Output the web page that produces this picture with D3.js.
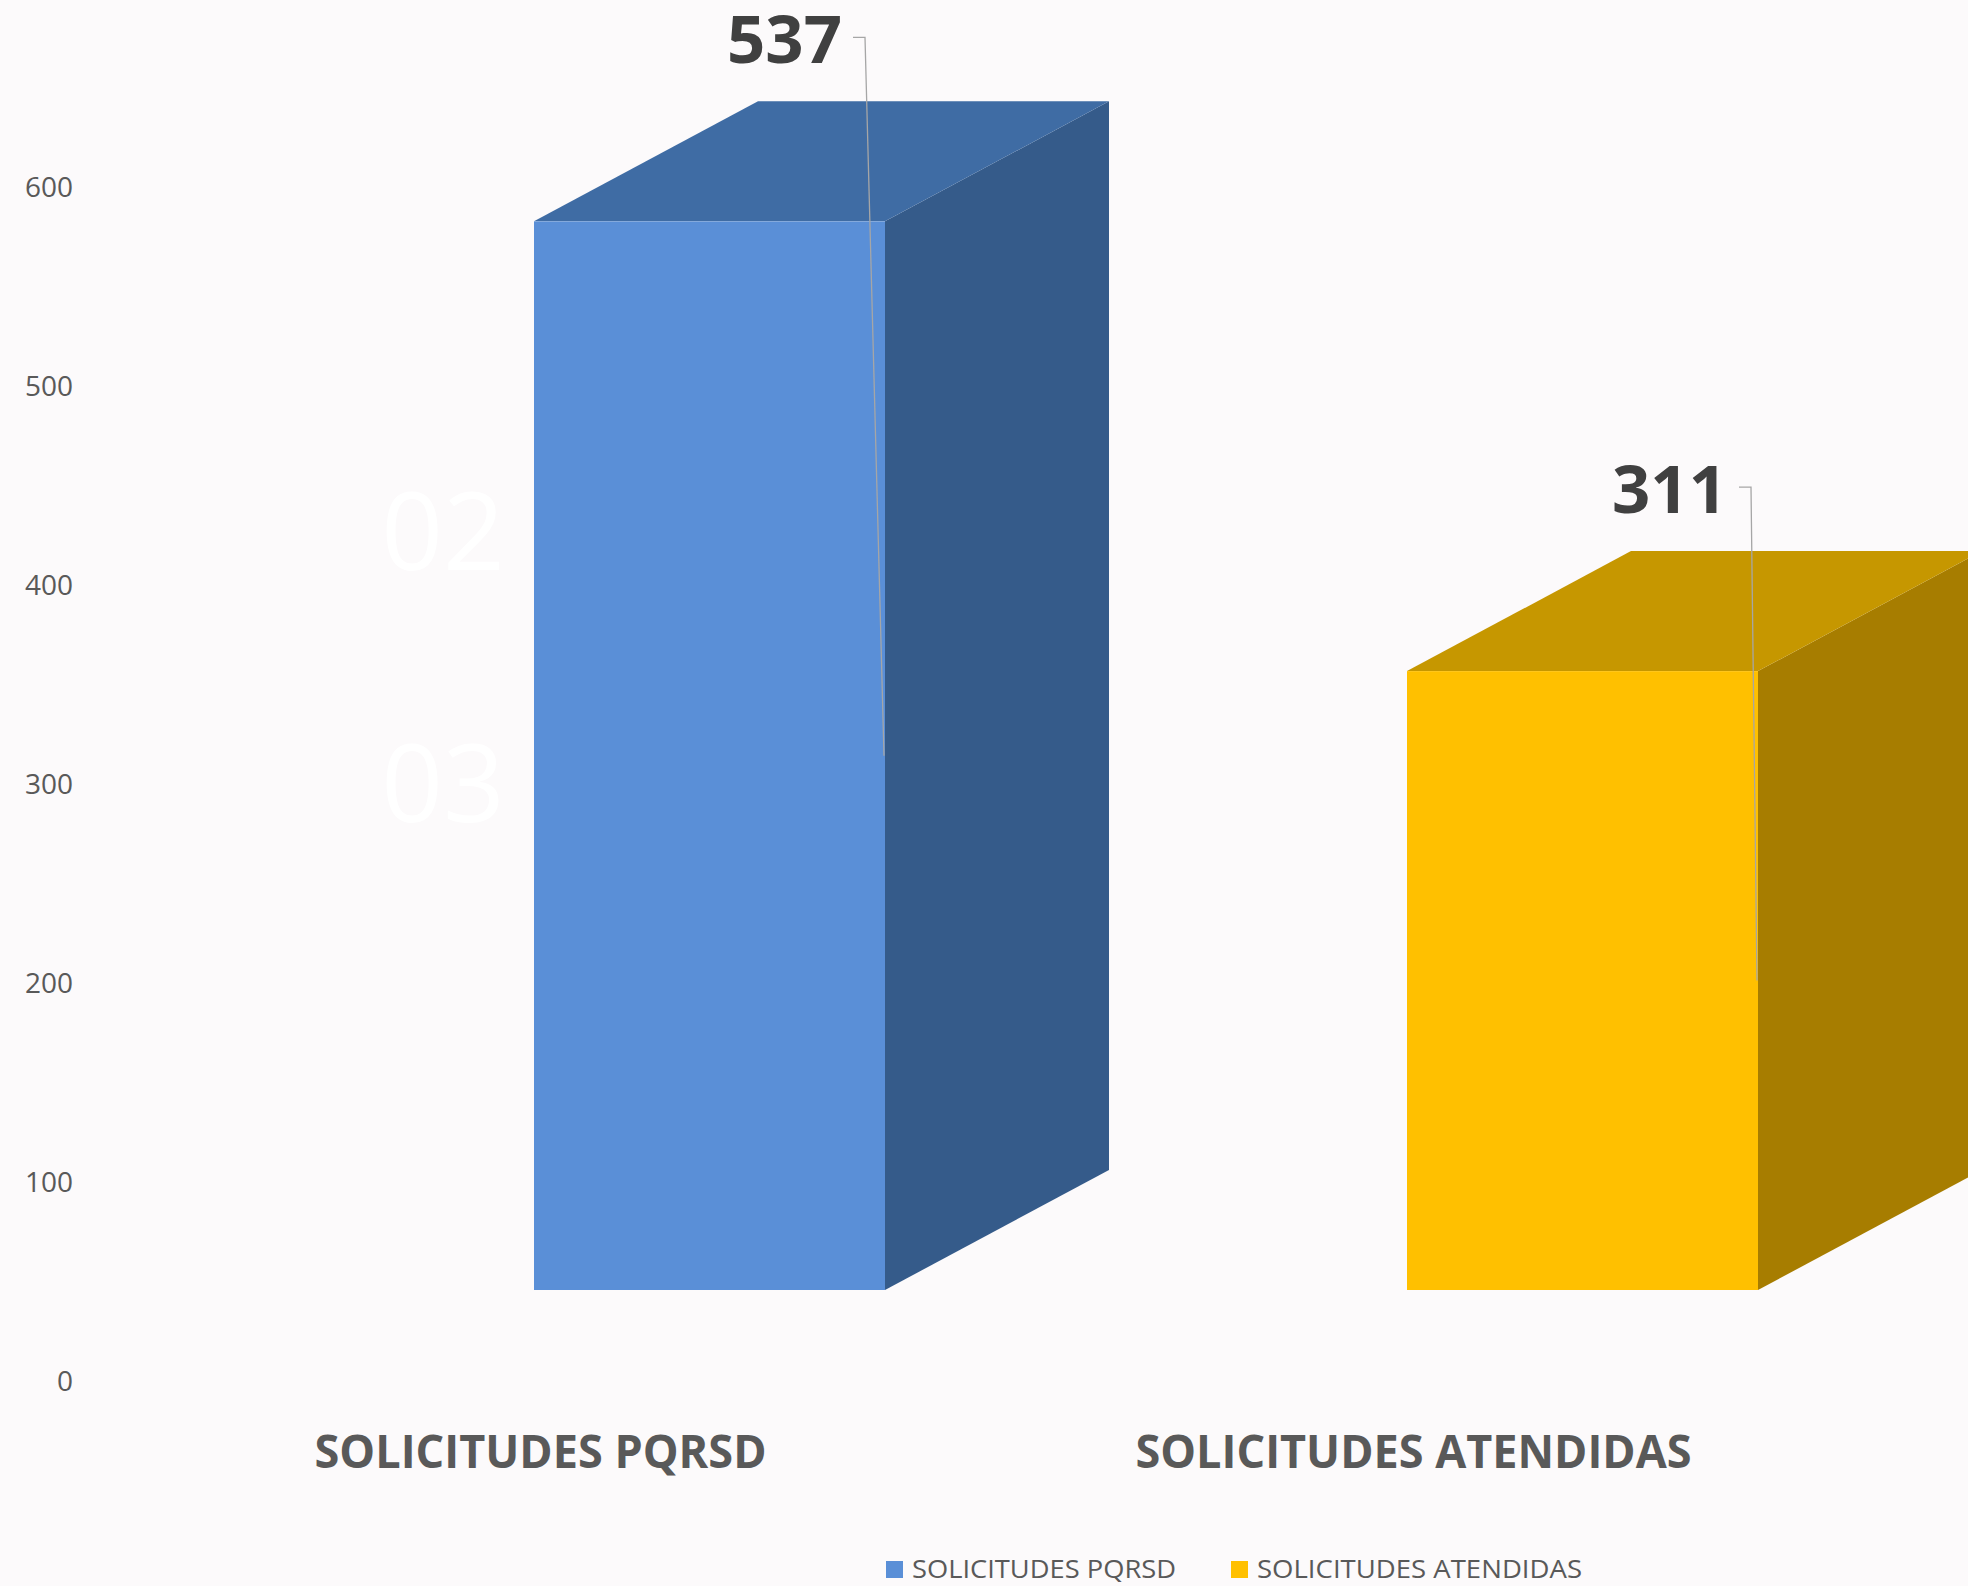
<!DOCTYPE html>
<html>
<head>
<meta charset="utf-8">
<script src="https://cdn.jsdelivr.net/npm/d3@7"></script>
<style>
  html, body { margin: 0; padding: 0; background: #fcfafb; }
  svg { display: block; }
</style>
</head>
<body>
<div id="plot"></div>
<script>
    // Chart data
    const categories = ['SOLICITUDES PQRSD', 'SOLICITUDES ATENDIDAS'];
    const values = [537, 311];
    const yTicks = [0, 100, 200, 300, 400, 500, 600];
    const ghostLabels = ['02', '03'];

    const colors = [
        { front: '#5a8fd7', top: '#3f6ca4', side: '#355b8a' },
        { front: '#ffc000', top: '#c69700', side: '#a77d00' }
    ];

    const svgWidth = 1968;
    const svgHeight = 1586;

    const svg = d3.select('#plot')
        .append('svg')
        .attr('width', svgWidth)
        .attr('height', svgHeight);

    svg.append('rect')
        .attr('width', svgWidth)
        .attr('height', svgHeight)
        .attr('fill', '#fcfafb');

    // scales
    const xScale = d3.scaleBand()
        .domain(categories)
        .range([104, 1850])
        .padding(0);

    const yScale = d3.scaleLinear()
        .domain([0, 600])
        .range([1382, 188]);

    // 3d look: depth offset and front plane shift
    const depth = { dx: 224, dy: -120 };
    const frontShift = -92;
    const barOffset = 430;
    const barWidth = 351;
    // data label placement relative to bar's front right edge
    const labelDx = [-43, -31];
    const leaderDx = [-20, -7];

    // y axis labels (no line, no ticks)
    const yAxis = svg.append('g')
        .attr('class', 'y-axis')
        .attr('transform', 'translate(73, 0)')
        .call(d3.axisLeft(yScale).tickValues(yTicks).tickSize(0).tickPadding(0));
    yAxis.select('.domain').remove();
    yAxis.selectAll('text')
        .style('font-family', '"Open Sans", sans-serif')
        .style('font-size', '28px')
        .attr('fill', '#595959');

    // faint leftover labels
    svg.selectAll('.ghost')
        .data(ghostLabels)
        .enter()
        .append('text')
        .attr('class', 'ghost')
        .attr('x', 443)
        .attr('y', (d, i) => 570 + i * 252)
        .attr('text-anchor', 'middle')
        .style('font-family', '"Open Sans", sans-serif')
        .style('font-size', '108px')
        .attr('fill', '#ffffff')
        .text(d => d);

    const data = categories.map((c, i) => ({ category: c, value: values[i], col: colors[i], i: i }));

    const bars = svg.selectAll('.bar')
        .data(data)
        .enter()
        .append('g')
        .attr('class', 'bar');

    function geom(d) {
        const x0 = xScale(d.category) + barOffset;
        const x1 = x0 + barWidth;
        const yt = yScale(d.value) + frontShift;
        const yb = yScale(0) + frontShift;
        return { x0, x1, yt, yb };
    }

    // side face
    bars.append('path')
        .attr('d', d => {
            const g = geom(d);
            return `M${g.x1},${g.yt} L${g.x1 + depth.dx},${g.yt + depth.dy} L${g.x1 + depth.dx},${g.yb + depth.dy} L${g.x1},${g.yb} Z`;
        })
        .attr('fill', d => d.col.side);

    // top face
    bars.append('path')
        .attr('d', d => {
            const g = geom(d);
            return `M${g.x0},${g.yt} L${g.x1},${g.yt} L${g.x1 + depth.dx},${g.yt + depth.dy} L${g.x0 + depth.dx},${g.yt + depth.dy} Z`;
        })
        .attr('fill', d => d.col.top);

    // front face
    bars.append('rect')
        .attr('x', d => geom(d).x0)
        .attr('y', d => geom(d).yt)
        .attr('width', barWidth)
        .attr('height', d => geom(d).yb - geom(d).yt)
        .attr('fill', d => d.col.front);

    // data labels with leader lines
    const labels = svg.selectAll('.bar-label')
        .data(data)
        .enter()
        .append('g')
        .attr('class', 'bar-label');

    labels.append('polyline')
        .attr('points', d => {
            const g = geom(d);
            const ly = g.yt - 184;
            const cx = g.x1 + leaderDx[d.i];
            return `${cx - 12},${ly} ${cx},${ly} ${g.x1 - 1},${(g.yt + g.yb) / 2}`;
        })
        .attr('fill', 'none')
        .attr('stroke', '#a6a6a6')
        .attr('stroke-width', 1.3);

    labels.append('text')
        .attr('x', d => geom(d).x1 + labelDx[d.i])
        .attr('y', d => geom(d).yt - 158)
        .attr('text-anchor', 'end')
        .style('font-family', '"Open Sans", sans-serif')
        .style('font-weight', 'bold')
        .style('font-size', '67px')
        .attr('fill', '#404040')
        .text(d => d.value);

    // category labels
    svg.selectAll('.cat-label')
        .data(categories)
        .enter()
        .append('text')
        .attr('class', 'cat-label')
        .attr('x', d => xScale(d) + xScale.bandwidth() / 2)
        .attr('y', 1468)
        .attr('text-anchor', 'middle')
        .attr('textLength', (d, i) => [452, 556][i])
        .attr('lengthAdjust', 'spacingAndGlyphs')
        .style('font-family', '"Open Sans", sans-serif')
        .style('font-weight', 'bold')
        .style('font-size', '46px')
        .attr('fill', '#595959')
        .text(d => d);

    // legend
    const legend = svg.append('g').attr('class', 'legend');
    const legendX = [886, 1231];
    const legendW = [264, 325];
    categories.forEach((c, i) => {
        legend.append('rect')
            .attr('x', legendX[i])
            .attr('y', 1561)
            .attr('width', 17)
            .attr('height', 17)
            .attr('fill', colors[i].front);
        legend.append('text')
            .attr('x', legendX[i] + 26)
            .attr('y', 1578)
            .attr('textLength', legendW[i])
            .attr('lengthAdjust', 'spacingAndGlyphs')
            .style('font-family', '"Open Sans", sans-serif')
            .style('font-size', '25px')
            .attr('fill', '#595959')
            .text(c);
    });
</script>
</body>
</html>
